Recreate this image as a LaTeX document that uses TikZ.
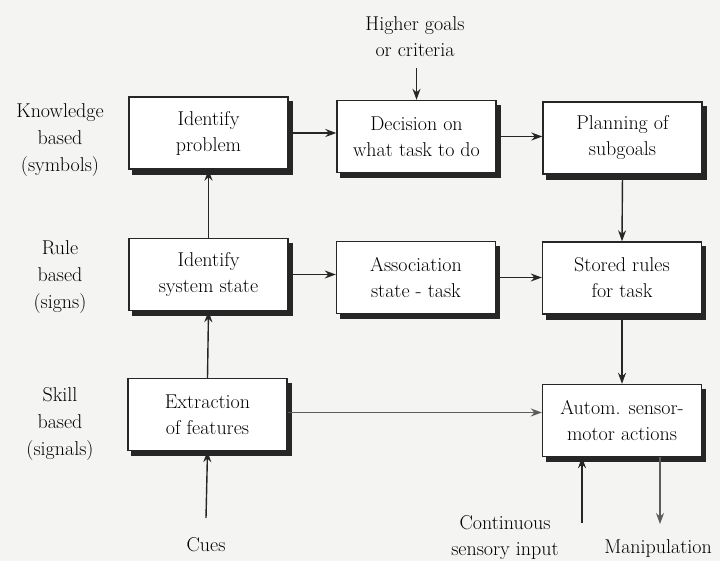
\documentclass[tikz,border=0pt]{standalone}
\usetikzlibrary{arrows.meta}
\pgfdeclarelayer{shade}
\pgfsetlayers{shade,main}
\definecolor{paper}{HTML}{F4F4F2}
\definecolor{ink}{HTML}{262626}
\begin{document}
\begin{tikzpicture}[x=1pt,y=-1pt,
  every node/.style={text=black, font=\fontsize{20}{26}\selectfont, align=center},
  stage/.style={draw=ink, line width=1.4pt, fill=white, minimum width=159pt, minimum height=72pt, inner sep=0pt},
  level/.style={font=\fontsize{20}{27}\selectfont},
  flow/.style={draw=ink, line width=1.4pt, -{Stealth[length=11pt,width=8pt]}},
  faint/.style={flow, draw=ink!75, line width=1.1pt}]
\begin{pgfonlayer}{shade}
\fill[paper] (0,0) rectangle (720,561);
\end{pgfonlayer}
\useasboundingbox (0,0) rectangle (720,561);

% levels of behaviour
\node[level] (kb) at (60,140) {Knowledge\\based\\(symbols)};
\node[level] (rb) at (60,277) {Rule\\based\\(signs)};
\node[level] (sb) at (60,424) {Skill\\based\\(signals)};

% knowledge-based row
\node[stage] (prob) at (208.5,133) {Identify\\problem};
\node[stage] (dec)  at (416.5,136.5) {Decision on\\what task to do};
\node[stage] (plan) at (622.5,138) {Planning of\\subgoals};

% rule-based row
\node[stage] (sys)   at (208.5,274.5) {Identify\\system state};
\node[stage] (assoc) at (416,277.5) {Association\\state - task};
\node[stage] (rules) at (622,278) {Stored rules\\for task};

% skill-based row
\node[stage] (feat) at (207.5,414.5) {Extraction\\of features};
\node[stage] (auto) at (622,420.5) {Autom. sensor-\\motor actions};

% dark offset shadow behind every box
\begin{pgfonlayer}{shade}
\foreach \b in {prob,dec,plan,sys,assoc,rules,feat,auto}
  \fill[ink] ([shift={(4,5)}]\b.north west) rectangle ([shift={(4,5)}]\b.south east);
\end{pgfonlayer}

% external inputs and outputs
\node (goals) at (415,37) {Higher goals\\or criteria};
\node (cues)  at (206,545) {Cues};
\node (cont)  at (505,538) {Continuous\\sensory input};
\node (manip) at (658,549) {Manipulation};
\coordinate (goalsend) at (416.5,68);
\coordinate (cuesend)  at (206,518);
\coordinate (contend)  at (582,523);
\coordinate (manipend) at (660,524);

% connectors
\draw[flow] (goalsend) -- (dec.north);
\draw[flow] (prob.east) -- (prob.east -| dec.west);
\draw[flow] (dec.east) -- (dec.east -| plan.west);
\draw[flow] (plan.south) -- (rules.north);
\draw[flow] (sys.north) -- (prob.south);
\draw[flow] (sys.east) -- (sys.east -| assoc.west);
\draw[flow] (assoc.east) -- (assoc.east -| rules.west);
\draw[flow] (rules.south) -- (auto.north);
\draw[flow] (feat.north) -- (sys.south);
\draw[faint] ([yshift=2pt]feat.east) -- ([yshift=2pt]feat.east -| auto.west);
\draw[flow] (cuesend) -- (feat.south);
\draw[flow] (contend) -- (contend |- auto.south);
\draw[faint] (manipend |- auto.south) -- (manipend);
\end{tikzpicture}
\end{document}
